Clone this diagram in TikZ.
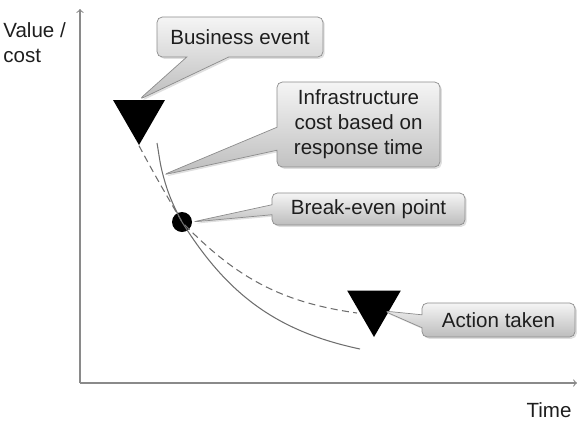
\documentclass[tikz,border=0pt]{standalone}
\usepackage{fontspec}
\setmainfont{Liberation Sans}
\usetikzlibrary{shapes.callouts,shapes.geometric,shadows}
\definecolor{axisgray}{HTML}{8A8A8A}
\definecolor{curvegray}{HTML}{6E6E6E}
\definecolor{boxedge}{HTML}{8C8C8C}
\definecolor{inkgray}{HTML}{1E1E1E}
\tikzstyle{arr}=[->,>=to]
\tikzstyle{note}=[rectangle callout,rounded corners=3pt,
  draw=boxedge,top color=black!4,bottom color=black!26,
  drop shadow={opacity=.25,shadow xshift=1pt,shadow yshift=-1pt},
  inner sep=0pt,align=center,text=inkgray]
\tikzstyle{marker}=[regular polygon,regular polygon sides=3,
  shape border rotate=180,fill=black,inner sep=0pt]

\begin{document}
\begin{tikzpicture}[x=0.02cm,y=-0.02cm,font=\fontsize{11.7}{14.2}\selectfont]
  \useasboundingbox (0,0) rectangle (577,420);
  % axes
  \coordinate (o) at (80,383);
  \coordinate (ytip) at (80,9);
  \coordinate (xtip) at (577,383);
  \draw[arr,axisgray,line width=0.6pt] (o) -- (ytip);
  \draw[arr,axisgray,line width=0.6pt] (o) -- (xtip);
  \node[anchor=north west,align=left,inner sep=0pt,text=inkgray] (vlab) at (3,22) {Value /\\cost};
  \node[anchor=base,inner sep=0pt,text=inkgray] (tlab) at (549,417) {Time};

  \foreach \n/\x/\y/\s in {t1/139/115/1.2cm, t2/374/306/1.24cm}
    \node[marker,minimum size=\s] (\n) at (\x,\y) {};
  \node[circle,fill=black,inner sep=0pt,minimum size=0.4cm] (dot) at (182,222) {};

  \coordinate (s0) at (157,143);
  \coordinate (cost) at (163,175);
  \coordinate (s1) at (360,349);
  \coordinate (d1) at (357,313);
  \coordinate (acted) at (384,311);
  \draw[curvegray,line width=0.6pt] (s0) to[out=-80,in=105] (cost) to[out=-75,in=118] (dot.center)
    to[out=-58,in=168] (s1);
  \draw[curvegray,line width=0.6pt,dash pattern=on 4pt off 2.5pt] (t1.south) to[out=-62,in=120] (dot.center)
    to[out=-46,in=172] (d1);

  \node[note,minimum width=3.32cm,minimum height=0.8cm,
    callout absolute pointer={(t1.north)},callout pointer width=0.84cm]
    (event) at (240,37) {Business event};
  \node[note,minimum width=3.26cm,minimum height=1.7cm,
    callout absolute pointer={(cost)},callout pointer width=0.46cm]
    (infra) at (358.5,124.5) {Infrastructure\\cost based on\\response time};
  \node[note,minimum width=3.86cm,minimum height=0.64cm,
    callout absolute pointer={(dot.east)},callout pointer width=0.2cm]
    (breakeven) at (368.5,209) {Break-even point};
  \node[note,minimum width=3.06cm,minimum height=0.68cm,
    callout absolute pointer={(acted)},callout pointer width=0.26cm]
    (action) at (498.5,320) {Action taken};
\end{tikzpicture}
\end{document}
